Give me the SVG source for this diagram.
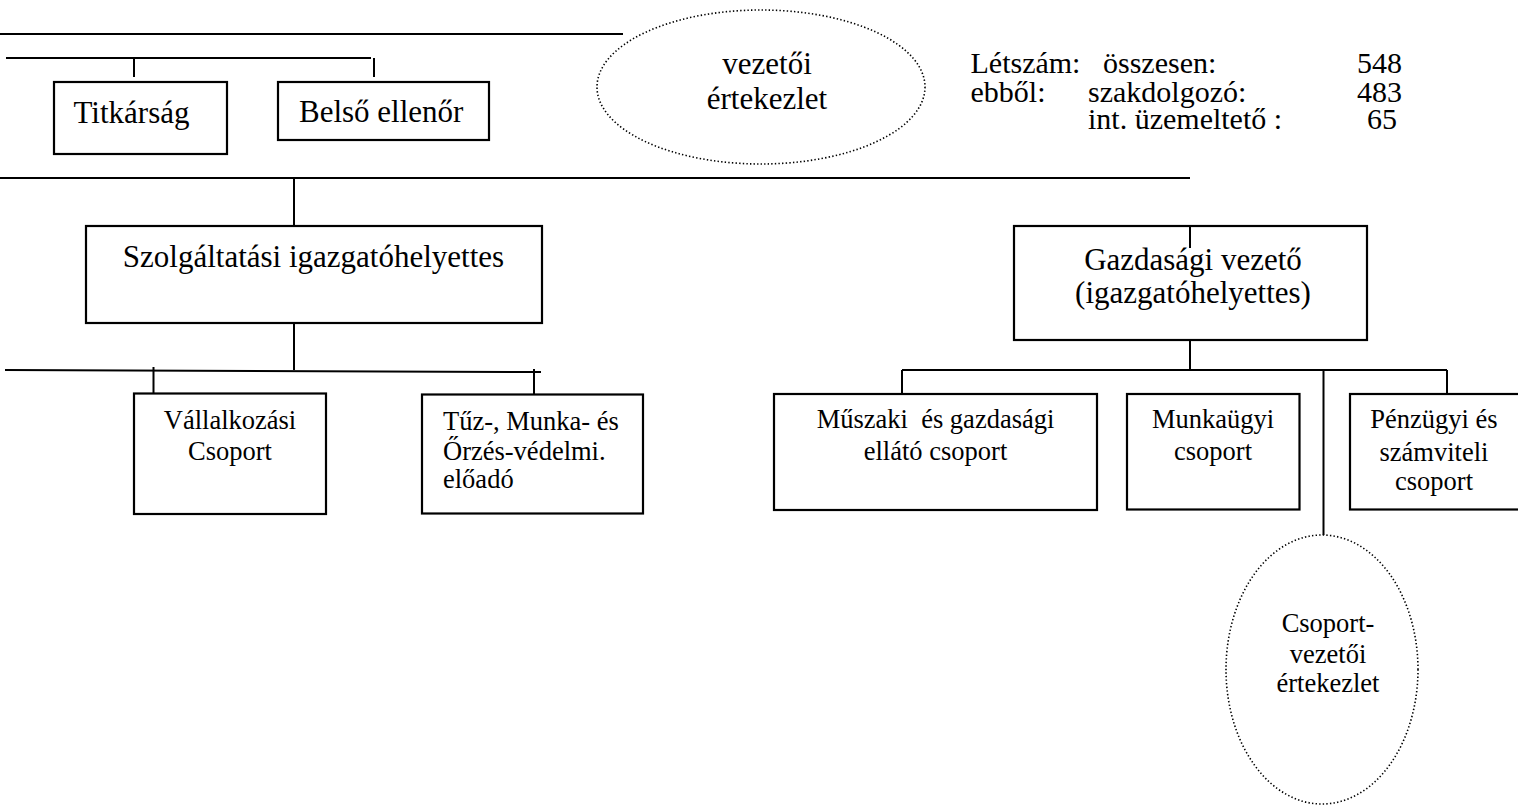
<svg xmlns="http://www.w3.org/2000/svg" width="1518" height="805" viewBox="0 0 1518 805">
<defs>
<style>
.ln{stroke:#000;stroke-width:2;fill:none}
.bx{stroke:#000;stroke-width:2.2;fill:#fff}
.dot{stroke:#000;stroke-width:1.6;fill:none;stroke-dasharray:1.4 2.2}
text{font-family:"Liberation Serif","Times New Roman",serif;fill:#000}
.t1{font-size:31px}
.t3{font-size:30px}
.t2{font-size:26.5px}
.m{text-anchor:middle}
.e{text-anchor:end}
</style>
</defs>
<rect width="1518" height="805" fill="#fff"/>
<g id="connectors">
<line class="ln" x1="0" y1="34" x2="623" y2="34"/>
<line class="ln" x1="6" y1="58" x2="371" y2="58"/>
<line class="ln" x1="134" y1="58" x2="134" y2="77"/>
<line class="ln" x1="374" y1="58" x2="374" y2="77"/>
<line class="ln" x1="0" y1="178" x2="1190" y2="178"/>
<line class="ln" x1="294" y1="178" x2="294" y2="226"/>
<line class="ln" x1="294" y1="323" x2="294" y2="370"/>
<line class="ln" x1="5" y1="370" x2="541" y2="372"/>
<line class="ln" x1="153.5" y1="367" x2="153.5" y2="393.5"/>
<line class="ln" x1="534" y1="369" x2="534" y2="394.5"/>
<line class="ln" x1="1190" y1="340" x2="1190" y2="370"/>
<line class="ln" x1="902" y1="370" x2="1447" y2="370"/>
<line class="ln" x1="902" y1="370" x2="902" y2="394"/>
<line class="ln" x1="1447" y1="370" x2="1447" y2="394"/>
<line class="ln" x1="1323.5" y1="370" x2="1323.5" y2="535"/>
</g>
<g id="vezetoi-ertekezlet">
<ellipse class="dot" cx="761" cy="87" rx="164" ry="77"/>
<text class="t1 m" x="767" y="74">vezetői</text>
<text class="t1 m" x="767" y="109">értekezlet</text>
</g>
<g id="letszam">
<text class="t3" x="970.5" y="72.7">Létszám:</text>
<text class="t3" x="1103" y="72.7">összesen:</text>
<text class="t3 e" x="1402" y="72.7">548</text>
<text class="t3" x="970.5" y="101.7">ebből:</text>
<text class="t3" x="1088" y="101.7">szakdolgozó:</text>
<text class="t3 e" x="1402" y="101.7">483</text>
<text class="t3" x="1088" y="129.3">int. üzemeltető :</text>
<text class="t3 e" x="1397" y="129.3">65</text>
</g>
<g id="titkarsag">
<rect class="bx" x="54" y="82" width="173" height="72"/>
<text class="t1" x="73.5" y="122.5">Titkárság</text>
</g>
<g id="belso-ellenor">
<rect class="bx" x="278" y="82" width="211" height="58"/>
<text class="t1" x="299" y="122">Belső ellenőr</text>
</g>
<g id="szolgaltatasi">
<rect class="bx" x="86" y="226" width="456" height="97"/>
<text class="t1 m" x="313.5" y="267">Szolgáltatási igazgatóhelyettes</text>
</g>
<g id="gazdasagi">
<rect class="bx" x="1014" y="226" width="353" height="114"/>
<line class="ln" x1="1190" y1="226" x2="1190" y2="248"/>
<text class="t1 m" x="1193" y="270">Gazdasági vezető</text>
<text class="t1 m" x="1193" y="302.7">(igazgatóhelyettes)</text>
</g>
<g id="vallalkozasi">
<rect class="bx" x="134" y="393.5" width="192" height="120.5"/>
<text class="t2 m" x="230" y="429">Vállalkozási</text>
<text class="t2 m" x="230" y="460">Csoport</text>
</g>
<g id="tuz">
<rect class="bx" x="422" y="394.5" width="221" height="119"/>
<text class="t2" x="443" y="430">Tűz-, Munka- és</text>
<text class="t2" x="443" y="459.5">Őrzés-védelmi.</text>
<text class="t2" x="443" y="488">előadó</text>
</g>
<g id="muszaki">
<rect class="bx" x="774" y="394" width="323" height="116"/>
<text class="t2 m" x="935.5" y="428" style="white-space:pre">Műszaki  és gazdasági</text>
<text class="t2 m" x="935.5" y="460">ellátó csoport</text>
</g>
<g id="munkaugyi">
<rect class="bx" x="1127" y="394" width="172.5" height="115.5"/>
<text class="t2 m" x="1213" y="428">Munkaügyi</text>
<text class="t2 m" x="1213" y="460">csoport</text>
</g>
<g id="penzugyi">
<rect class="bx" x="1350" y="394" width="180" height="115.5"/>
<text class="t2 m" x="1434" y="428.3">Pénzügyi és</text>
<text class="t2 m" x="1434" y="461">számviteli</text>
<text class="t2 m" x="1434" y="490">csoport</text>
</g>
<g id="csoportvezetoi-ertekezlet">
<ellipse class="dot" cx="1322" cy="669.5" rx="96" ry="134.5"/>
<text class="t2 m" x="1328" y="631.7">Csoport-</text>
<text class="t2 m" x="1328" y="663.3">vezetői</text>
<text class="t2 m" x="1328" y="692.3">értekezlet</text>
</g>
</svg>
